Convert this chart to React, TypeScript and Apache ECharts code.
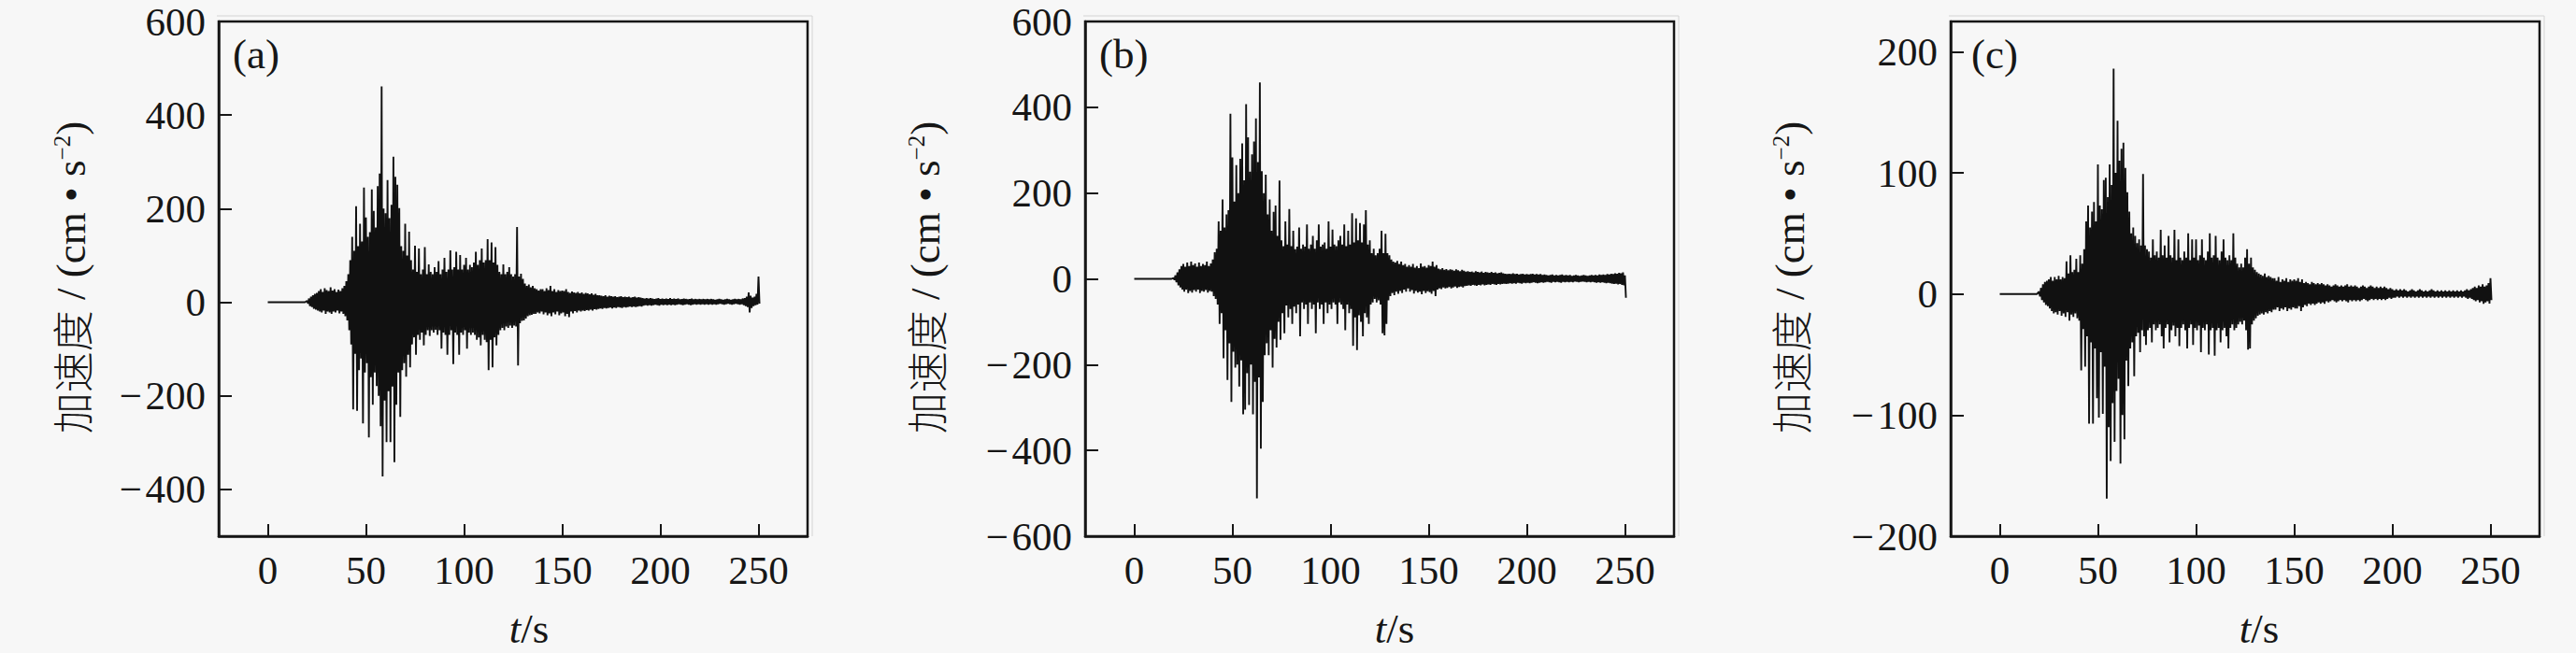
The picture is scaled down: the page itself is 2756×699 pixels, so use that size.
import React, { useEffect, useRef } from 'react';
import * as echarts from 'echarts';

// ---------- data ----------
// Envelope samples every 1 s: "up" value at t, "lo" value at t + 0.5 s.
const T0 = 20; // first sampled second
const PRE_EVENT_T = [0, 19]; // flat record before the event (acceleration 0)
const X_TICKS = [0, 50, 100, 150, 200, 250];
const A_Y_TICKS = [-400, -200, 0, 200, 400, 600];
const B_Y_TICKS = [-600, -400, -200, 0, 200, 400, 600];
const C_Y_TICKS = [-200, -100, 0, 100, 200];
const PANEL_LABELS = ['(a)', '(b)', '(c)'];

// panel (a): t = 20..150
const aUpMain = [
  3, 8, 12, 15, 18, 20, 24, 28, 22, 30,
  26, 24, 32, 25, 28, 22, 27, 24, 30, 35,
  45, 60, 90, 140, 110, 205, 120, 168, 130, 245,
  181, 140, 150, 241, 195, 160, 248, 275, 461, 200,
  190, 261, 180, 208, 311, 268, 251, 201, 120, 110,
  168, 100, 151, 90, 70, 121, 65, 115, 60, 70,
  118, 60, 81, 65, 60, 75, 65, 88, 60, 70,
  95, 65, 70, 111, 70, 75, 108, 70, 101, 70,
  80, 95, 70, 80, 75, 85, 108, 80, 90, 115,
  85, 90, 135, 90, 128, 85, 118, 80, 65, 60,
  81, 60, 65, 75, 60, 55, 60, 161, 55, 61,
  50, 40, 35, 38, 32, 35, 30, 28, 25, 28,
  28, 24, 30, 26, 35, 24, 28, 22, 26, 24,
  25,
];
// panel (a): t = 151..250
const aUpTail = [
  24, 28, 22, 20, 23, 21, 20, 22, 19, 21,
  18, 20, 19, 17, 19, 16, 18, 15, 15, 14,
  13, 15, 12, 14, 13, 12, 13, 11, 12, 13,
  11, 12, 11, 12, 10, 11, 12, 10, 11, 10,
  9, 8, 9, 8, 9, 8, 7, 8, 9, 7,
  8, 7, 8, 7, 9, 7, 8, 7, 8, 6,
  7, 8, 7, 6, 7, 8, 6, 7, 6, 7,
  6, 7, 6, 7, 6, 7, 6, 5, 6, 7,
  6, 5, 6, 7, 6, 5, 6, 7, 6, 7,
  6, 8, 9, 12, 21, 14, 10, 12, 18, 55,
];
const aLoMain = [
  -3, -8, -10, -14, -16, -18, -20, -22, -18, -25,
  -20, -22, -25, -20, -22, -18, -24, -20, -25, -30,
  -39, -60, -90, -229, -110, -232, -145, -120, -259, -150,
  -130, -289, -160, -219, -150, -179, -200, -265, -372, -210,
  -299, -190, -299, -180, -342, -219, -150, -245, -145, -130,
  -159, -112, -139, -90, -75, -112, -70, -80, -65, -92,
  -70, -60, -72, -60, -65, -59, -70, -60, -99, -65,
  -70, -112, -70, -60, -132, -65, -70, -112, -65, -70,
  -60, -99, -65, -70, -65, -70, -80, -75, -92, -70,
  -80, -85, -145, -80, -139, -75, -92, -70, -60, -55,
  -60, -52, -55, -50, -55, -50, -52, -135, -45, -40,
  -39, -35, -30, -28, -27, -25, -25, -22, -24, -20,
  -26, -22, -28, -24, -30, -22, -26, -20, -28, -24,
  -22,
];
const aLoTail = [
  -30, -25, -32, -20, -24, -19, -22, -18, -20, -18,
  -19, -17, -18, -16, -18, -15, -16, -14, -13, -14,
  -12, -13, -12, -11, -13, -11, -12, -10, -11, -12,
  -10, -11, -10, -9, -10, -9, -10, -9, -8, -9,
  -7, -6, -7, -6, -7, -6, -5, -6, -7, -5,
  -6, -5, -6, -5, -6, -5, -6, -5, -4, -5,
  -6, -5, -4, -5, -6, -5, -4, -5, -4, -5,
  -4, -5, -4, -5, -4, -5, -4, -5, -4, -3,
  -4, -5, -4, -3, -4, -5, -4, -3, -4, -5,
  -4, -6, -8, -10, -22, -12, -8, -6, -5, -3,
];

// panel (b)
const bUpMain = [
  2, 8, 15, 22, 30, 35, 28, 38, 30, 40,
  32, 36, 28, 38, 30, 35, 32, 40, 30, 36,
  45, 62, 70, 134, 112, 185, 120, 150, 160, 385,
  283, 180, 265, 200, 280, 316, 230, 407, 330, 250,
  290, 320, 374, 272, 458, 251, 200, 243, 150, 185,
  112, 156, 171, 100, 229, 90, 76, 134, 80, 163,
  76, 112, 69, 75, 120, 70, 80, 75, 127, 70,
  80, 100, 70, 90, 127, 75, 80, 85, 70, 134,
  75, 115, 80, 76, 90, 100, 80, 127, 76, 112,
  80, 153, 85, 141, 90, 130, 85, 127, 160, 80,
  90, 60, 70, 55, 60, 70, 112, 60, 105, 60,
  55, 45, 40, 38, 42, 35, 40, 32, 35, 28,
  32, 28, 35, 26, 30, 25, 36, 28, 30, 26,
  32,
];
const bUpTail = [
  30, 40, 28, 32, 24, 22, 25, 21, 23, 20,
  22, 21, 19, 22, 20, 18, 21, 19, 17, 18,
  16, 17, 15, 18, 16, 15, 17, 14, 16, 15,
  14, 16, 14, 15, 13, 14, 15, 13, 12, 11,
  12, 11, 13, 11, 12, 10, 11, 12, 10, 11,
  10, 11, 12, 10, 11, 10, 11, 9, 10, 9,
  8, 9, 10, 8, 9, 8, 9, 10, 8, 9,
  8, 9, 7, 8, 9, 8, 7, 8, 9, 8,
  7, 8, 9, 8, 9, 8, 10, 9, 10, 9,
  11, 10, 12, 11, 13, 12, 14, 13, 15, 8,
];
const bLoMain = [
  -2, -8, -15, -20, -25, -30, -25, -33, -28, -32,
  -26, -30, -25, -33, -28, -30, -26, -32, -28, -30,
  -40, -47, -60, -105, -80, -185, -120, -236, -150, -287,
  -170, -207, -200, -251, -190, -316, -305, -220, -294, -200,
  -316, -240, -512, -230, -396, -287, -178, -150, -178, -120,
  -207, -140, -160, -100, -142, -80, -127, -62, -90, -70,
  -105, -65, -80, -60, -134, -55, -70, -60, -105, -55,
  -70, -60, -127, -55, -70, -60, -105, -55, -80, -60,
  -70, -55, -60, -105, -55, -60, -70, -120, -60, -80,
  -70, -156, -90, -166, -85, -100, -134, -80, -90, -105,
  -60, -55, -47, -55, -50, -60, -127, -132, -105, -50,
  -40, -33, -38, -30, -35, -28, -33, -25, -30, -22,
  -30, -26, -34, -28, -32, -30, -36, -28, -33, -29,
  -31,
];
const bLoTail = [
  -35, -28, -40, -25, -22, -24, -20, -22, -21, -19,
  -22, -20, -18, -21, -19, -18, -20, -17, -16, -15,
  -16, -14, -15, -16, -14, -15, -13, -15, -14, -13,
  -14, -12, -13, -14, -12, -13, -12, -11, -12, -11,
  -10, -11, -10, -11, -9, -10, -11, -9, -10, -9,
  -10, -9, -8, -9, -10, -9, -8, -9, -8, -7,
  -8, -9, -7, -8, -7, -8, -9, -7, -8, -7,
  -8, -7, -8, -6, -7, -8, -7, -6, -7, -8,
  -7, -8, -7, -8, -9, -8, -9, -8, -9, -10,
  -9, -10, -11, -12, -11, -13, -12, -14, -15, -44,
];

// panel (c)
const cUpMain = [
  2, 5, 8, 10, 11, 12, 14, 11, 14, 12,
  15, 12, 14, 13, 27, 17, 32, 18, 20, 29,
  18, 32, 25, 37, 60, 73, 55, 68, 76, 60,
  107, 73, 70, 94, 96, 80, 107, 90, 186, 100,
  143, 110, 120, 125, 104, 84, 68, 50, 55, 48,
  42, 45, 40, 99, 40, 37, 35, 30, 45, 32,
  35, 30, 53, 32, 40, 30, 48, 32, 30, 53,
  28, 45, 30, 28, 35, 30, 50, 28, 45, 30,
  45, 28, 32, 45, 30, 28, 35, 50, 30, 32,
  48, 30, 28, 35, 45, 30, 28, 32, 28, 50,
  30, 25, 22, 25, 22, 30, 37, 25, 30, 22,
  20, 18, 17, 16, 15, 17, 14, 15, 14, 13,
  13, 11, 14, 10, 12, 11, 13, 10, 12, 11,
  12,
];
const cUpTail = [
  11, 13, 10, 12, 9, 10, 9, 8, 10, 9,
  8, 9, 8, 9, 8, 7, 8, 7, 6, 7,
  8, 7, 6, 7, 6, 7, 8, 6, 7, 6,
  7, 6, 5, 6, 7, 6, 5, 6, 7, 6,
  5, 6, 5, 6, 5, 6, 5, 4, 5, 4,
  3, 4, 3, 4, 3, 4, 3, 2, 3, 4,
  3, 2, 3, 4, 3, 2, 3, 2, 3, 4,
  3, 2, 3, 2, 3, 2, 3, 2, 3, 2,
  3, 2, 3, 2, 3, 2, 3, 4, 3, 4,
  5, 6, 5, 7, 6, 8, 6, 7, 9, 13,
];
const cLoMain = [
  -2, -5, -7, -9, -10, -12, -14, -16, -15, -17,
  -14, -18, -16, -19, -15, -22, -17, -19, -16, -20,
  -22, -63, -29, -60, -35, -107, -40, -107, -45, -86,
  -102, -48, -99, -60, -169, -110, -138, -90, -122, -80,
  -70, -140, -100, -120, -55, -76, -45, -40, -68, -35,
  -32, -48, -30, -35, -42, -30, -28, -40, -25, -30,
  -28, -25, -35, -45, -28, -25, -40, -30, -26, -35,
  -28, -43, -28, -25, -30, -45, -28, -25, -42, -28,
  -30, -26, -48, -28, -30, -25, -50, -30, -28, -51,
  -30, -28, -40, -30, -28, -35, -45, -28, -25, -30,
  -28, -25, -23, -25, -22, -30, -46, -45, -25, -22,
  -20, -18, -17, -16, -17, -15, -16, -14, -15, -13,
  -13, -11, -14, -12, -13, -11, -14, -12, -13, -11,
  -12,
];
const cLoTail = [
  -12, -10, -14, -11, -9, -10, -8, -9, -8, -9,
  -8, -7, -8, -7, -8, -6, -7, -6, -5, -6,
  -7, -6, -5, -6, -5, -6, -7, -5, -6, -5,
  -6, -5, -6, -5, -4, -5, -6, -5, -4, -5,
  -4, -5, -4, -5, -4, -5, -4, -3, -4, -3,
  -3, -2, -3, -2, -3, -2, -3, -2, -3, -2,
  -3, -2, -3, -2, -3, -2, -3, -2, -3, -2,
  -3, -2, -3, -2, -3, -2, -3, -2, -3, -2,
  -3, -2, -3, -2, -3, -2, -3, -4, -3, -4,
  -5, -6, -5, -7, -6, -8, -7, -6, -8, -5,
];

// ---------- helpers ----------
function buildTrace(up: number[], lo: number[]): number[][] {
  const d: number[][] = [[PRE_EVENT_T[0], 0], [PRE_EVENT_T[1], 0]];
  for (let i = 0; i < up.length; i++) {
    d.push([T0 + i, up[i]]);
    d.push([T0 + i + 0.5, lo[i]]);
  }
  return d;
}

const INK = '#161616';
const FONT_LATIN = '"Liberation Serif", "Times New Roman", serif';
const FONT_ZH = '"Noto Sans CJK SC", sans-serif';
const FS = 43;

function fmt(v: number): string {
  return v < 0 ? '\u2212\u200a' + Math.abs(v) : String(v);
}

export default function App() {
  const ref = useRef<HTMLDivElement>(null);

  useEffect(() => {
    if (!ref.current) return;
    const chart = echarts.init(ref.current, undefined, { renderer: 'svg' });

    const GRID_TOP = 23;
    const GRID_W = 630;
    const GRID_H = 551;
    const panels = [
      { left: 234, up: [...aUpMain, ...aUpTail], lo: [...aLoMain, ...aLoTail], yMin: -500, yMax: 600, yTicks: A_Y_TICKS, nameX: 76, tsX: 566, labelDx: 15 },
      { left: 1161, up: [...bUpMain, ...bUpTail], lo: [...bLoMain, ...bLoTail], yMin: -600, yMax: 600, yTicks: B_Y_TICKS, nameX: 990, tsX: 1492, labelDx: 15 },
      { left: 2087, up: [...cUpMain, ...cUpTail], lo: [...cLoMain, ...cLoTail], yMin: -200, yMax: 225, yTicks: C_Y_TICKS, nameX: 1915, tsX: 2417, labelDx: 22 },
    ];

    const graphic: any[] = [];
    panels.forEach((p, i) => {
      // faint scan lines outside the frame
      graphic.push({
        type: 'line', silent: true,
        shape: { x1: p.left - 2, y1: GRID_TOP - 6, x2: p.left + GRID_W + 5, y2: GRID_TOP - 6 },
        style: { stroke: '#d4d4d4', lineWidth: 1 },
      });
      graphic.push({
        type: 'line', silent: true,
        shape: { x1: p.left + GRID_W + 5, y1: GRID_TOP - 6, x2: p.left + GRID_W + 5, y2: GRID_TOP + GRID_H },
        style: { stroke: '#d4d4d4', lineWidth: 1 },
      });
      graphic.push({
        type: 'text', silent: true,
        x: p.left + p.labelDx, y: 58,
        style: { text: PANEL_LABELS[i], fill: INK, fontFamily: FONT_LATIN, fontSize: FS + 2, align: 'left', verticalAlign: 'middle' },
      });
      graphic.push({
        type: 'text', silent: true,
        x: p.nameX, y: 297, rotation: Math.PI / 2,
        style: {
          text: '{zh|加速度}{n| / (cm • s}{sup|\u22122}{n|)}',
          align: 'center', verticalAlign: 'middle', fill: INK,
          rich: {
            zh: { fontFamily: FONT_ZH, fontSize: 44, fill: INK, fontWeight: 300 },
            n: { fontFamily: FONT_LATIN, fontSize: 45, fill: INK },
            sup: { fontFamily: FONT_LATIN, fontSize: 25, fill: INK, verticalAlign: 'top' },
          },
        },
      });
      graphic.push({
        type: 'text', silent: true,
        x: p.tsX, y: 673,
        style: {
          text: '{i|t}{n|/s}', align: 'center', verticalAlign: 'middle', fill: INK,
          rich: {
            i: { fontFamily: FONT_LATIN, fontSize: 45, fontStyle: 'italic', fill: INK },
            n: { fontFamily: FONT_LATIN, fontSize: 45, fill: INK },
          },
        },
      });
    });

    const option: any = {
      animation: false,
      backgroundColor: '#f7f7f7',
      grid: panels.map((p) => ({
        left: p.left, top: GRID_TOP, width: GRID_W, height: GRID_H,
        show: true, borderColor: INK, borderWidth: 2.5, backgroundColor: 'transparent',
      })),
      xAxis: panels.map((p, i) => ({
        type: 'value', gridIndex: i, min: -25, max: 275,
        axisLine: { show: true, onZero: false, lineStyle: { color: INK, width: 2.5 } },
        axisTick: { show: true, inside: true, length: 13, customValues: X_TICKS, lineStyle: { color: INK, width: 2 } },
        axisLabel: { show: true, customValues: X_TICKS, color: INK, fontFamily: FONT_LATIN, fontSize: FS, margin: 15 },
        splitLine: { show: false },
      })),
      yAxis: panels.map((p, i) => ({
        type: 'value', gridIndex: i, min: p.yMin, max: p.yMax,
        axisLine: { show: true, onZero: false, lineStyle: { color: INK, width: 2.5 } },
        axisTick: { show: true, inside: true, length: 14, customValues: p.yTicks, lineStyle: { color: INK, width: 2 } },
        axisLabel: { show: true, customValues: p.yTicks, color: INK, fontFamily: FONT_LATIN, fontSize: FS, margin: 14, formatter: fmt },
        splitLine: { show: false },
      })),
      series: panels.map((p, i) => ({
        type: 'line', xAxisIndex: i, yAxisIndex: i,
        data: buildTrace(p.up, p.lo),
        showSymbol: false, symbol: 'none', silent: true, clip: true,
        lineStyle: { color: '#111111', width: 1.9 },
      })),
      graphic,
    };

    chart.setOption(option);
    return () => chart.dispose();
  }, []);

  return <div ref={ref} style={{ position: 'absolute', left: 0, top: 0, width: 2756, height: 699 }} />;
}
